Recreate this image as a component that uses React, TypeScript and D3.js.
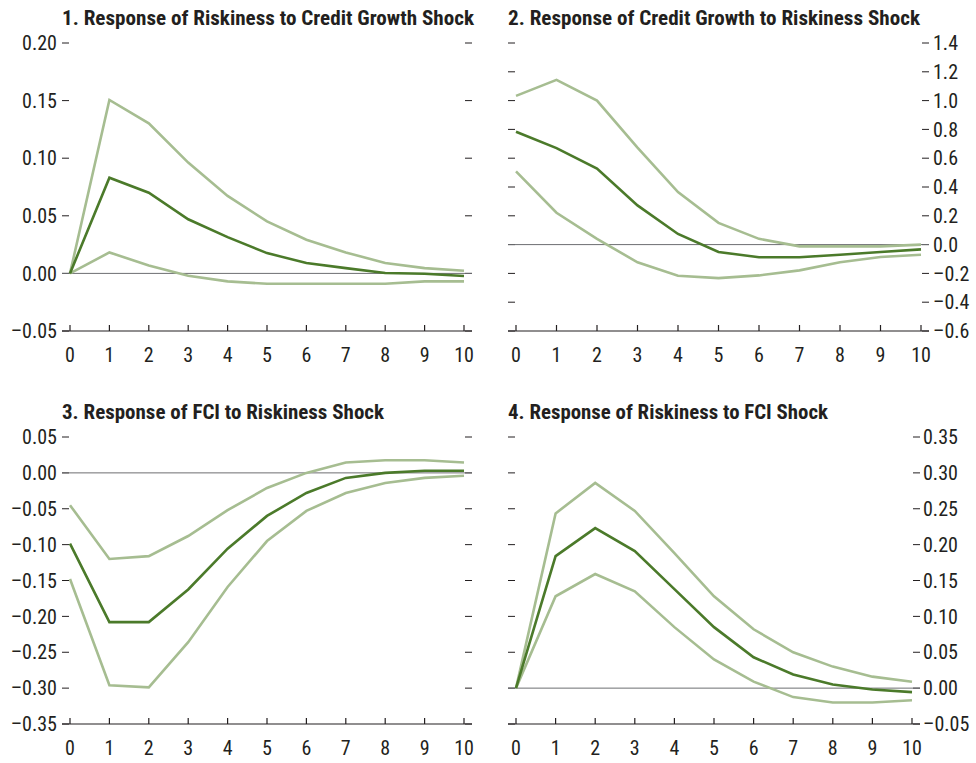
import React from 'react';
import * as d3 from 'd3';

// horizons 0..10
const steps = d3.range(0, 11);

// 1. Riskiness to credit growth shock
const p1Mid = [0, 0.083, 0.070, 0.047, 0.0315, 0.0176, 0.009, 0.0046, 0.0003, -0.0003, -0.0023];
const p1Up = [0, 0.1506, 0.1303, 0.0962, 0.0673, 0.0451, 0.0292, 0.0182, 0.009, 0.0046, 0.0023];
const p1Lo = [0, 0.0182, 0.0069, -0.002, -0.0069, -0.009, -0.009, -0.009, -0.009, -0.0069, -0.0069];

// 2. Credit growth to riskiness shock
const p2Mid = [0.784, 0.67, 0.528, 0.272, 0.074, -0.051, -0.088, -0.088, -0.07, -0.051, -0.033];
const p2Up = [1.033, 1.144, 1.0, 0.674, 0.365, 0.151, 0.04, -0.012, -0.012, -0.012, 0];
const p2Lo = [0.509, 0.221, 0.04, -0.123, -0.216, -0.233, -0.214, -0.179, -0.123, -0.086, -0.07];

// 3. FCI to riskiness shock
const p3Mid = [-0.0986, -0.208, -0.208, -0.1625, -0.1056, -0.06, -0.028, -0.007, 0, 0.003, 0.003];
const p3Up = [-0.045, -0.12, -0.116, -0.088, -0.052, -0.021, 0, 0.0144, 0.0176, 0.0176, 0.0144];
const p3Lo = [-0.148, -0.296, -0.299, -0.236, -0.159, -0.095, -0.053, -0.028, -0.014, -0.007, -0.004];

// 4. Riskiness to FCI shock
const p4Mid = [0, 0.184, 0.223, 0.191, 0.138, 0.085, 0.043, 0.019, 0.005, -0.002, -0.0056];
const p4Up = [0, 0.2435, 0.286, 0.247, 0.188, 0.128, 0.082, 0.05, 0.03, 0.016, 0.009];
const p4Lo = [0, 0.128, 0.159, 0.135, 0.085, 0.04, 0.009, -0.0125, -0.02, -0.02, -0.017];

const titles = [
  '1. Response of Riskiness to Credit Growth Shock',
  '2. Response of Credit Growth to Riskiness Shock',
  '3. Response of FCI to Riskiness Shock',
  '4. Response of Riskiness to FCI Shock',
];

const DARK = '#4b7a2a';
const LIGHT = '#a6bd91';
const FONT = '"Liberation Sans Narrow", "Arial Narrow", "Roboto Condensed", "Liberation Sans", Arial, sans-serif';

const fmt = (digits: number) => (v: number) => {
  const s = Math.abs(v).toFixed(digits);
  return Math.abs(v) < 1e-9 ? s : v < 0 ? '\u2013' + s : s;
};

interface PanelProps {
  title: string;
  titleW: number;
  x0: number; x1: number; yTop: number; yBot: number;
  domain: [number, number];
  ticks: number[];
  digits: number;
  side: 'left' | 'right';
  labelX: number;
  mid: number[]; up: number[]; lo: number[];
}

const Panel: React.FC<PanelProps> = (p) => {
  const x = d3.scaleLinear().domain([0, 10]).range([p.x0, p.x1]);
  const y = d3.scaleLinear().domain(p.domain).range([p.yBot, p.yTop]);
  const line = d3.line<number>().x((_, i) => x(steps[i])).y((d) => y(d));
  const f = fmt(p.digits);
  const L = p.x0 - 8;
  const R = p.x1 + 8;
  return (
    <g>
      <text x={L} y={p.yTop - 18} fontFamily={FONT} fontWeight="bold" fontSize={20} fill="#231f20"
        textLength={p.titleW} lengthAdjust="spacingAndGlyphs">{p.title}</text>
      {p.ticks.map((t) => (
        <g key={t}>
          <line x1={L} x2={p.x0 - 1} y1={y(t)} y2={y(t)} stroke="#231f20" strokeWidth={1} />
          <line x1={p.x1 + 1} x2={R} y1={y(t)} y2={y(t)} stroke="#231f20" strokeWidth={1} />
          <text x={p.labelX} y={y(t)} dy="0.36em" fontFamily={FONT} fontSize={20} fill="#231f20"
            textAnchor={p.side === 'left' ? 'end' : 'start'}>{f(t)}</text>
        </g>
      ))}
      <line x1={L} x2={R} y1={y(0)} y2={y(0)} stroke="#6d6e71" strokeWidth={1} />
      <line x1={L} x2={R} y1={p.yBot} y2={p.yBot} stroke="#231f20" strokeWidth={1.2} />
      {steps.map((s) => (
        <g key={s}>
          <line x1={x(s)} x2={x(s)} y1={p.yBot} y2={p.yBot - 6} stroke="#231f20" strokeWidth={1.2} />
          <text x={x(s)} y={p.yBot + 31} fontFamily={FONT} fontSize={20} fill="#231f20" textAnchor="middle">{s}</text>
        </g>
      ))}
      <path d={line(p.up) || ''} fill="none" stroke={LIGHT} strokeWidth={2.6} />
      <path d={line(p.lo) || ''} fill="none" stroke={LIGHT} strokeWidth={2.6} />
      <path d={line(p.mid) || ''} fill="none" stroke={DARK} strokeWidth={2.6} />
    </g>
  );
};

export default function App() {
  const t1 = d3.range(-0.05, 0.2001, 0.05);
  const t2 = d3.range(-0.6, 1.4001, 0.2);
  const t3 = d3.range(-0.35, 0.0501, 0.05);
  const t4 = d3.range(-0.05, 0.3501, 0.05);
  return (
    <svg width={976} height={763} style={{ position: 'absolute', left: 0, top: 0, background: '#fff' }}>
      <Panel title={titles[0]} titleW={412} x0={70} x1={464} yTop={43} yBot={331} domain={[-0.05, 0.2]}
        ticks={t1} digits={2} side="left" labelX={57} mid={p1Mid} up={p1Up} lo={p1Lo} />
      <Panel title={titles[1]} titleW={412} x0={516} x1={921} yTop={43} yBot={331} domain={[-0.6, 1.4]}
        ticks={t2} digits={1} side="right" labelX={933} mid={p2Mid} up={p2Up} lo={p2Lo} />
      <Panel title={titles[2]} titleW={322} x0={70} x1={464} yTop={437} yBot={724} domain={[-0.35, 0.05]}
        ticks={t3} digits={2} side="left" labelX={57} mid={p3Mid} up={p3Up} lo={p3Lo} />
      <Panel title={titles[3]} titleW={320} x0={516} x1={912} yTop={437} yBot={724} domain={[-0.05, 0.35]}
        ticks={t4} digits={2} side="right" labelX={923} mid={p4Mid} up={p4Up} lo={p4Lo} />
    </svg>
  );
}
